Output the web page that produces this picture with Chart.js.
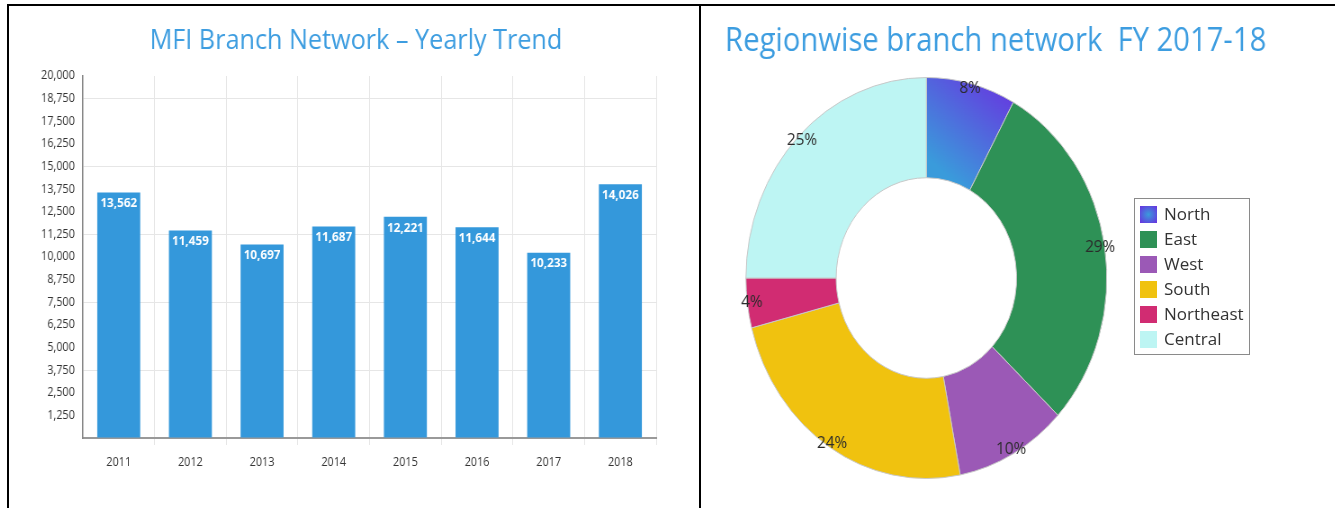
<!DOCTYPE html>
<html>
<head>
<meta charset="utf-8">
<script src="https://cdn.jsdelivr.net/npm/chart.js@4"></script>
<style>
  body { margin: 0; background: #fff; width: 1335px; height: 508px; overflow: hidden; position: relative; font-family: "Open Sans", sans-serif; }
  .line { position: absolute; background: #000; }
  canvas.squash { position: absolute; transform: scaleX(0.9); transform-origin: 0 0; }
  #legend { position: absolute; left: 1134px; top: 198px; width: 114px; height: 155px; border: 1px solid #8a8a8a; }
  #legend div { position: absolute; left: 5px; height: 20px; font-size: 17px; line-height: 20px; color: #333; }
  #legend span { display: inline-block; width: 17px; height: 17px; vertical-align: -3px; margin-right: 7px; }
</style>
</head>
<body>
<div class="line" style="left:7px;top:4px;width:1328px;height:2px"></div>
<div class="line" style="left:7px;top:4px;width:2px;height:504px"></div>
<div class="line" style="left:699px;top:4px;width:2px;height:504px"></div>

<canvas id="barChart" class="squash" width="762" height="502" style="left:10px;top:6px"></canvas>
<canvas id="pieChart" class="squash" width="703" height="502" style="left:702px;top:6px"></canvas>
<div id="legend"></div>

<script>
// bar chart data
const years = ['2011', '2012', '2013', '2014', '2015', '2016', '2017', '2018'];
const branches = [13562, 11459, 10697, 11687, 12221, 11644, 10233, 14026];

// doughnut data
const regions = ['North', 'East', 'West', 'South', 'Northeast', 'Central'];
const regionShare = [8, 29, 10, 24, 4, 25];
const regionColors = ['#5a4fde', '#2e9156', '#9b59b6', '#f0c20f', '#d12c72', '#bdf5f3'];

const titleBlue = '#3d9de0';

// titles drawn straight on the canvas (no width limit, free position)
function canvasTitle(text, size, x, y, align) {
    return {
        id: 'canvasTitle',
        afterDraw(chart) {
            const ctx = chart.ctx;
            ctx.save();
            ctx.fillStyle = titleBlue;
            ctx.font = size + 'px "Open Sans"';
            ctx.textAlign = align;
            ctx.textBaseline = 'middle';
            ctx.fillText(text, x, y);
            ctx.restore();
        }
    };
}

// value labels inside the top of each bar
const barLabels = {
    id: 'barLabels',
    afterDatasetsDraw(chart) {
        const ctx = chart.ctx;
        const meta = chart.getDatasetMeta(0);
        ctx.save();
        ctx.fillStyle = '#fff';
        ctx.font = 'bold 13px "Open Sans"';
        ctx.textAlign = 'center';
        ctx.textBaseline = 'middle';
        meta.data.forEach((bar, i) => {
            ctx.fillText(branches[i].toLocaleString('en-US'), bar.x, bar.y + 11);
        });
        ctx.restore();
    }
};

new Chart(document.getElementById('barChart'), {
    type: 'bar',
    data: {
        labels: years,
        datasets: [{
            data: branches,
            backgroundColor: '#3498db',
            categoryPercentage: 0.6,
            barPercentage: 1
        }]
    },
    options: {
        responsive: false,
        animation: false,
        layout: { padding: { left: 0, right: 44, top: 70, bottom: 0 } },
        plugins: {
            legend: { display: false },
            tooltip: { enabled: false },
            title: { display: false }
        },
        scales: {
            x: {
                afterFit: (scale) => { scale.height = 70; },
                border: { color: '#999', width: 2 },
                grid: {
                    color: (c) => (c.index === 0 || c.index === years.length) ? 'transparent' : '#e6e6e6',
                    tickLength: 7
                },
                ticks: { color: '#333', padding: 10, font: { family: 'Open Sans', size: 12 } }
            },
            y: {
                min: 0,
                max: 20000,
                afterFit: (scale) => { scale.width = 81; },
                border: { color: '#888', width: 1.5 },
                grid: {
                    color: (c) => (c.tick && c.tick.value > 0 && c.tick.value % 3750 === 0) ? '#e6e6e6' : 'transparent',
                    drawTicks: false
                },
                ticks: {
                    stepSize: 1250,
                    padding: 9,
                    color: '#333',
                    font: { family: 'Open Sans', size: 12 },
                    callback: (v) => v === 0 ? '' : v.toLocaleString('en-US')
                }
            }
        }
    },
    plugins: [barLabels, canvasTitle('MFI Branch Network \u2013 Yearly Trend', 28, 384.4, 35, 'center')]
});

// percent labels near the outer edge of each slice
const sliceLabels = {
    id: 'sliceLabels',
    afterDatasetsDraw(chart) {
        const ctx = chart.ctx;
        const meta = chart.getDatasetMeta(0);
        ctx.save();
        ctx.fillStyle = '#2b2b2b';
        ctx.font = '17px "Open Sans"';
        ctx.textAlign = 'center';
        ctx.textBaseline = 'middle';
        meta.data.forEach((arc, i) => {
            const p = arc.getProps(['x', 'y', 'startAngle', 'endAngle', 'outerRadius'], true);
            const mid = (p.startAngle + p.endAngle) / 2;
            const r = p.outerRadius * 0.975;
            ctx.fillText(regionShare[i] + '%', p.x + Math.cos(mid) * r, p.y + Math.sin(mid) * r);
        });
        ctx.restore();
    }
};

function sliceColor(c) {
    if (c.dataIndex !== 0) return regionColors[c.dataIndex];
    const chart = c.chart;
    const area = chart.chartArea;
    if (!area) return regionColors[0];
    const cx = (area.left + area.right) / 2;
    const cy = (area.top + area.bottom) / 2;
    const g = chart.ctx.createLinearGradient(cx + 95, cy - 200, cx + 20, cy - 105);
    g.addColorStop(0, '#6a30e0');
    g.addColorStop(1, '#3a9bdb');
    return g;
}

new Chart(document.getElementById('pieChart'), {
    type: 'doughnut',
    data: {
        labels: regions,
        datasets: [{
            data: regionShare,
            backgroundColor: sliceColor,
            borderColor: '#c8c8c8',
            borderWidth: 1
        }]
    },
    options: {
        responsive: false,
        animation: false,
        cutout: '50%',
        layout: { padding: { left: 25.6, right: 230, top: 71, bottom: 29 } },
        plugins: {
            legend: { display: false },
            tooltip: { enabled: false },
            title: { display: false }
        }
    },
    plugins: [sliceLabels, canvasTitle('Regionwise branch network  FY 2017-18', 32.5, 25.6, 36, 'left')]
});

// legend box
const legend = document.getElementById('legend');
regions.forEach((name, i) => {
    const item = document.createElement('div');
    item.style.top = (5 + i * 25) + 'px';
    const sw = document.createElement('span');
    sw.style.background = i === 0 ? 'radial-gradient(circle, #3a9bdb 0%, #5a4fde 70%, #6a30e0 100%)' : regionColors[i];
    item.appendChild(sw);
    item.appendChild(document.createTextNode(name));
    legend.appendChild(item);
});
</script>
</body>
</html>
